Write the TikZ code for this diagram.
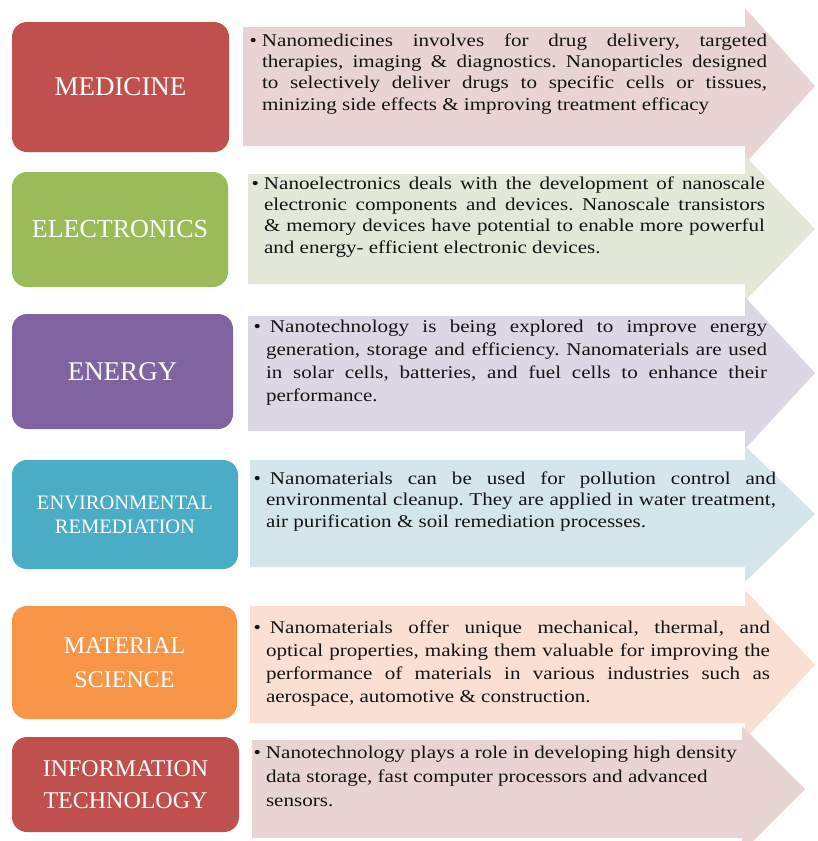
\documentclass[tikz,border=0pt]{standalone}
\usepackage{fontspec}
\setmainfont{Liberation Serif}
\newfontfamily\bodyfont{Liberation Serif}[FakeStretch=1.17]
\frenchspacing
\definecolor{cRed}{HTML}{C0504D}
\definecolor{cGreen}{HTML}{9BBB59}
\definecolor{cPurple}{HTML}{8064A2}
\definecolor{cTeal}{HTML}{4BACC6}
\definecolor{cOrange}{HTML}{F79646}
\definecolor{aRed}{HTML}{E8D4D4}
\definecolor{aGreen}{HTML}{E3E8D9}
\definecolor{aPurple}{HTML}{DCD7E4}
\definecolor{aTeal}{HTML}{D5E5EC}
\definecolor{aOrange}{HTML}{FADFD3}
\definecolor{aRedTwo}{HTML}{E9D4D4}
\definecolor{txt}{HTML}{141414}
\newcommand\jl[2]{\makebox[#1][s]{#2}}
\newcommand\bul{\llap{\textbullet\hspace{5pt}}}
\tikzset{
  labelbox/.style={rounded corners=15pt, draw=none, anchor=north west, inner sep=0pt, outer sep=0pt,
    text=white, align=center},
  bodytext/.style={anchor=base west, inner sep=0pt, outer sep=0pt, align=left, text=txt},
}
\begin{document}
\begin{tikzpicture}[x=1pt,y=-1pt]
\fill[white] (0,0) rectangle (817,841);
\useasboundingbox (0,0) rectangle (817,841);
% arrows
\fill[aRed] (243,27) -- (745,27) -- (745,8) -- (815,86) -- (745,164) -- (745,146) -- (243,146) -- cycle;
\fill[aGreen] (248,174) -- (745,174) -- (745,156) -- (815,229) -- (745,301) -- (745,284) -- (248,284) -- cycle;
\fill[aPurple] (248,316) -- (745,316) -- (745,297) -- (815,373) -- (745,449) -- (745,431) -- (248,431) -- cycle;
\fill[aTeal] (250,460) -- (745,460) -- (745,446) -- (815,514) -- (745,582) -- (745,567) -- (250,567) -- cycle;
\fill[aOrange] (250,606) -- (745,606) -- (745,590) -- (815,665) -- (745,739) -- (745,723) -- (250,723) -- cycle;
\fill[aRedTwo] (252,740) -- (742,740) -- (742,726) -- (805,789) -- (742,852) -- (742,838) -- (252,838) -- cycle;
% boxes
\node[labelbox, fill=cRed, minimum width=217pt, minimum height=130pt, font=\fontsize{27}{30}\selectfont] (b1) at (12,22) {MEDICINE};
\node[labelbox, fill=cGreen, minimum width=216pt, minimum height=115pt, font=\fontsize{26}{30}\selectfont] (b2) at (12,172) {ELECTRONICS};
\node[labelbox, fill=cPurple, minimum width=221pt, minimum height=115pt, font=\fontsize{27}{30}\selectfont] (b3) at (12,314) {ENERGY};
\node[labelbox, fill=cTeal, minimum width=226pt, minimum height=109pt, font=\fontsize{20.5}{24}\selectfont] (b4) at (12,460) {ENVIRONMENTAL\\REMEDIATION};
\node[labelbox, fill=cOrange, minimum width=225pt, minimum height=113pt, font=\fontsize{24}{34}\selectfont] (b5) at (12,606) {MATERIAL\\SCIENCE};
\node[labelbox, fill=cRed, minimum width=227pt, minimum height=95pt, font=\fontsize{24}{32}\selectfont] (b6) at (12,737) {INFORMATION\\TECHNOLOGY};
% texts (anchor = baseline of the last line)
\node[bodytext, font=\bodyfont\fontsize{18}{21.3}\selectfont] (t1) at (262,110) {%
\bul\jl{505pt}{Nanomedicines involves for drug delivery, targeted}\\
\jl{505pt}{therapies, imaging \& diagnostics. Nanoparticles designed}\\
\jl{505pt}{to selectively deliver drugs to specific cells or tissues,}\\
minizing side effects \& improving treatment efficacy};
\node[bodytext, font=\bodyfont\fontsize{18}{21.3}\selectfont] (t2) at (264,253) {%
\bul\jl{501pt}{Nanoelectronics deals with the development of nanoscale}\\
\jl{501pt}{electronic components and devices. Nanoscale transistors}\\
\jl{501pt}{\& memory devices have potential to enable more powerful}\\
and energy- efficient electronic devices.};
\node[bodytext, font=\bodyfont\fontsize{18}{22.7}\selectfont] (t3) at (266,401) {%
\bul\jl{501pt}{\hspace{4pt}Nanotechnology is being explored to improve energy}\\
\jl{501pt}{generation, storage and efficiency. Nanomaterials are used}\\
\jl{501pt}{in solar cells, batteries, and fuel cells to enhance their}\\
performance.};
\node[bodytext, font=\bodyfont\fontsize{18}{21.5}\selectfont] (t4) at (266,527) {%
\bul\jl{510pt}{\hspace{4pt}Nanomaterials can be used for pollution control and}\\
\jl{510pt}{environmental cleanup. They are applied in water treatment,}\\
air purification \& soil remediation processes.};
\node[bodytext, font=\bodyfont\fontsize{18}{22.7}\selectfont] (t5) at (266,702) {%
\bul\jl{504pt}{\hspace{4pt}Nanomaterials offer unique mechanical, thermal, and}\\
\jl{504pt}{optical properties, making them valuable for improving the}\\
\jl{504pt}{performance of materials in various industries such as}\\
aerospace, automotive \& construction.};
\node[bodytext, font=\bodyfont\fontsize{18}{24}\selectfont] (t6) at (266,806) {%
\bul Nanotechnology plays a role in developing high density\\
data storage, fast computer processors and advanced\\
sensors.};
\end{tikzpicture}
\end{document}
